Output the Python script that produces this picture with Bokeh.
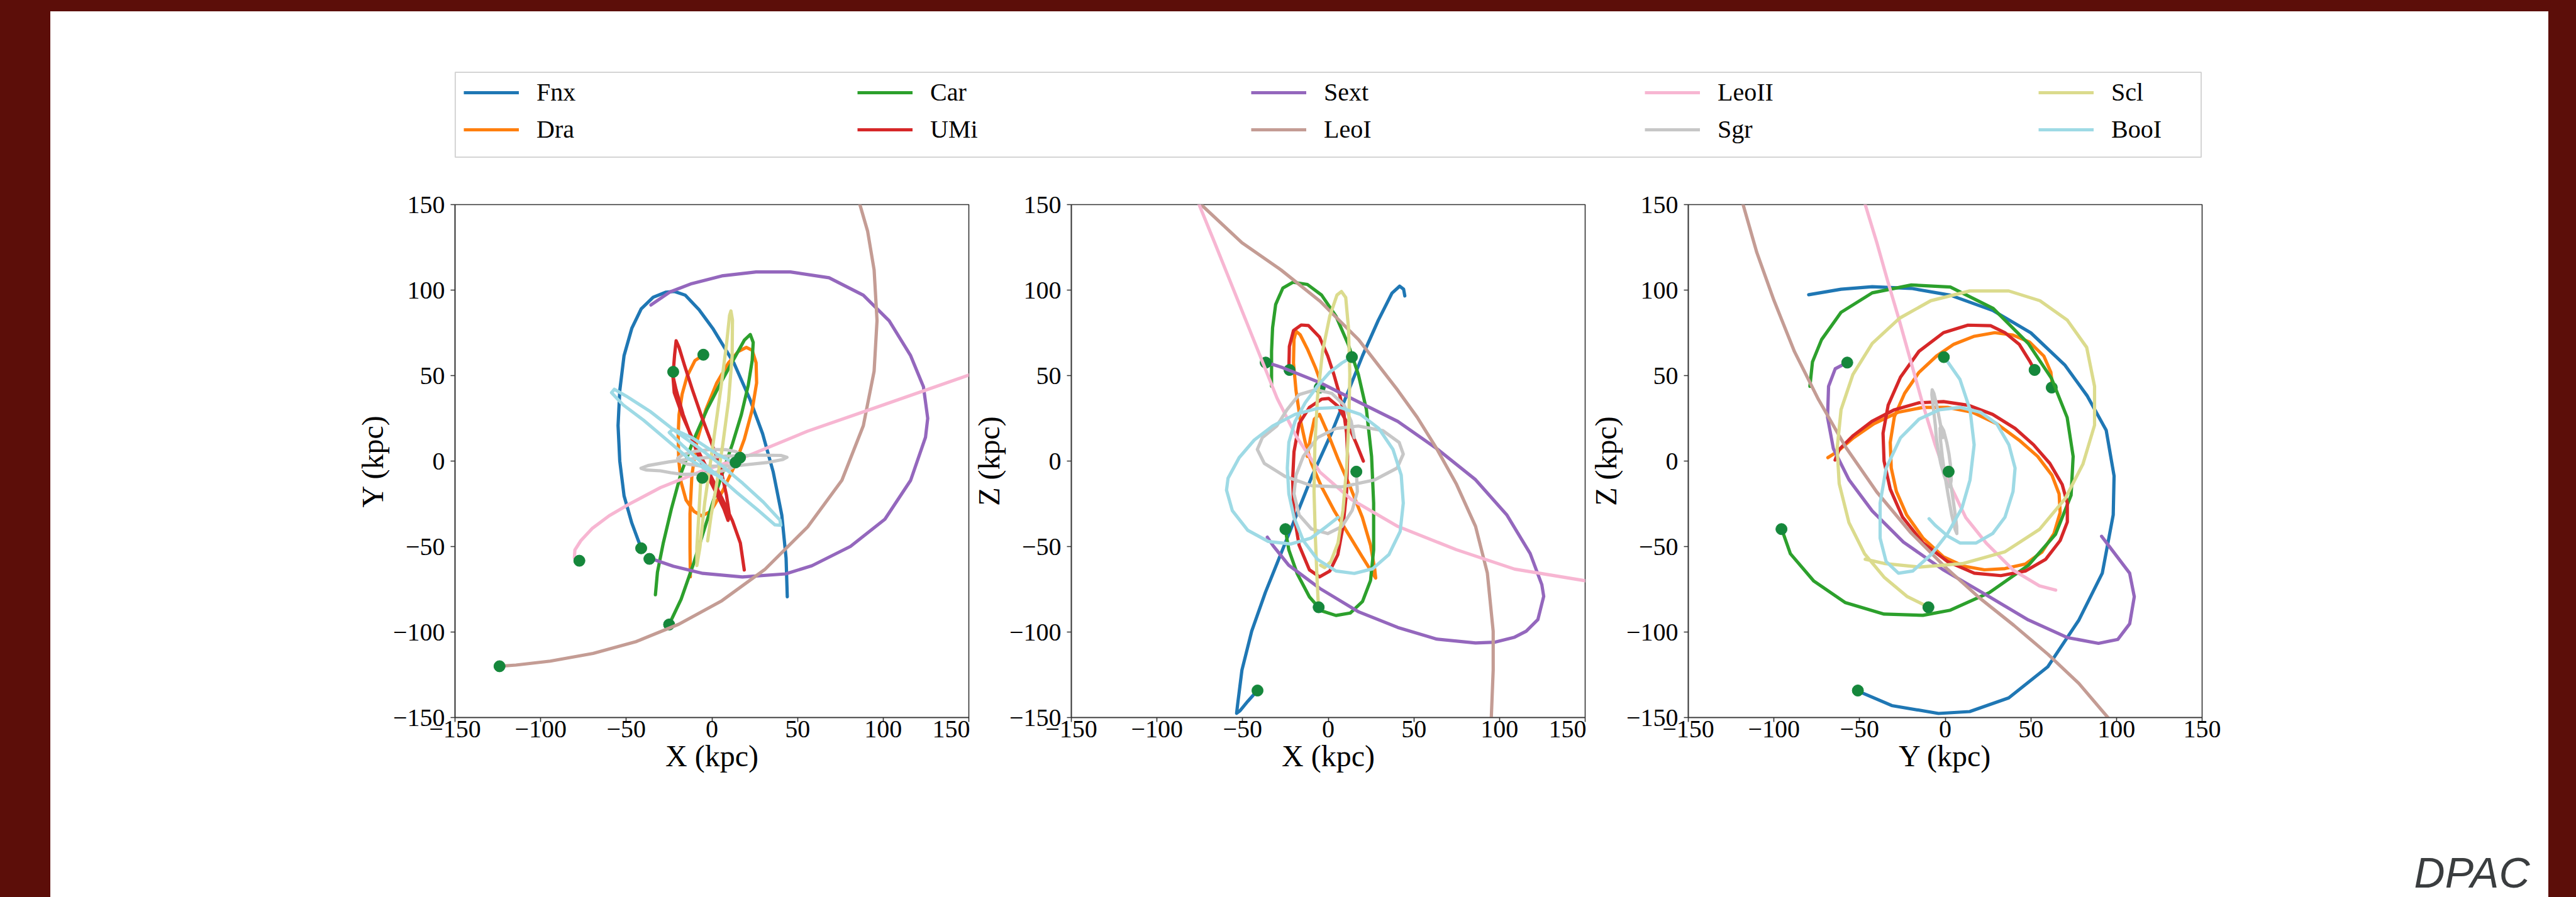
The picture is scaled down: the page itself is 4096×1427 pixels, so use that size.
import re
from bokeh.plotting import figure
from bokeh.models import Range1d, FixedTicker, Legend, LegendItem, Spacer, Label
from bokeh.layouts import row, column
from bokeh.embed import file_html
from bokeh.resources import INLINE

# ---------------- data ----------------
NAMES = ["Fnx", "Dra", "Car", "UMi", "Sext", "LeoI", "LeoII", "Sgr", "Scl", "BooI"]
COLORS = ["#1f77b4", "#ff7f0e", "#2ca02c", "#d62728", "#9467bd",
          "#c49c94", "#f7b6d2", "#c7c7c7", "#dbdb8d", "#9edae5"]
DOT_COLOR = "#15873b"
TICKS = [-150, -100, -50, 0, 50, 100, 150]
TICK_LABELS = ["\u2212150", "\u2212100", "\u221250", "0", "50", "100", "150"]
X_LABELS = ["X (kpc)", "X (kpc)", "Y (kpc)"]
Y_LABELS = ["Y (kpc)", "Z (kpc)", "Z (kpc)"]

# present positions (green dots), per galaxy in NAMES order
DOT_X = [-41.3, -5.0, -25.0, -22.6, -36.5, -124.0, -77.4, 16.4, -5.6, 13.8]
DOT_Y = [-51.0, 62.2, -95.6, 52.2, -57.2, -120.0, -58.3, 2.0, -9.8, -0.8]
DOT_Z = [-134.2, 43.0, -39.8, 53.3, 57.6, 175.0, 165.0, -6.2, -85.5, 60.8]

# ---- panel 1: X-Y ----
FNX_XY = [(-41.3, -51), (-46.8, -36.2), (-51.3, -20.3), (-53.8, 0), (-54.8, 20.7), (-53.8, 41.2),
          (-51.3, 61.7), (-46.8, 77.6), (-41.3, 89), (-34.3, 95.8), (-26.8, 98.8), (-21.8, 99.2),
          (-15.5, 97), (-7.5, 88.5), (0.5, 77.6), (13, 57), (22, 36.6), (29.6, 16), (35.8, -6.4),
          (40.8, -31.6), (43.3, -56.7), (44, -79.4)]
DRA_XY = [(-5.5, 61.7), (-9.9, 58.8), (-14.5, 49.6), (-17.4, 39.1), (-19.2, 27.2), (-19.7, 15.4),
          (-19.4, 0.9), (-18, -12.3), (-15.1, -22.8), (-10.5, -29.4), (-5.9, -32.1), (-0.7, -29.4),
          (6.2, -17.6), (13.1, -3.1), (18.9, 12.7), (23.5, 29.9), (26.1, 45.7), (25.8, 57.5),
          (23.5, 64.8), (20.1, 66.5), (15.4, 64.1), (9.7, 57.5), (2.8, 45.7), (-3.6, 29.9),
          (-8.8, 11.4), (-11.7, -8.4), (-12.8, -30.8), (-12.8, -50.5), (-12.6, -67.6)]
CAR_XY = [(-25.2, -96), (-18, -80.8), (-11.1, -61.1), (-5.3, -42.6), (0.5, -24.2), (6.2, -7),
          (12, 10.1), (17.2, 27.2), (21.2, 44.3), (23.5, 58.8), (24.1, 69.4), (22.4, 74),
          (18.9, 70.7), (13.1, 60.2), (5.1, 45.7), (-3, 29.9), (-11.1, 11.4), (-18, -7),
          (-23.7, -28.1), (-28.4, -47.9), (-31.8, -65), (-33, -78.2)]
UMI_XY = [(-22.6, 52), (-21.8, 62), (-20.9, 70.4), (-19.2, 66.5), (-16, 56), (-11.5, 42),
          (-6, 26), (0, 10), (5, -4), (8.5, -20), (10.3, -32), (9.4, -34.7), (7, -28),
          (2, -17.6), (-4.7, -4.4), (-11.1, 11.4), (-16.8, 27.2), (-20.9, 41.7), (-22.8, 50),
          (-22, 40), (-17, 26), (-10, 10), (-2, -6), (6, -22), (12, -35), (16.6, -47.9),
          (18.9, -63.7)]
SEXT_XY = [(-36.5, -56.7), (-22.6, -61.5), (-5.3, -65.7), (17.8, -67.8), (43, -66), (58.4, -61.2),
           (80.9, -49.9), (101, -34), (116, -11.3), (124.7, 13.9), (126, 25), (123.5, 43.5),
           (116, 61.7), (103.5, 82), (88.4, 97), (68.4, 107.2), (45.8, 110.6), (25.8, 110.6),
           (5.8, 108.3), (-11.8, 103.8), (-24.3, 99), (-35.6, 91.3)]
LEOI_XY = [(-124, -120), (-114.4, -119.3), (-94.4, -117), (-69.4, -112.5), (-44.3, -105.6),
           (-19.3, -95.4), (5.8, -81.7), (30.8, -63.5), (55.9, -38.5), (75.9, -11.2), (88.4, 20.7),
           (94.7, 52.6), (96.4, 82.2), (94.7, 111.8), (90.9, 134.5), (86.4, 150), (84, 160)]
LEOII_XY = [(-77.4, -58.3), (-80.3, -56.5), (-80, -52), (-76.5, -46.5), (-70, -39.5), (-60, -32),
            (-48, -25), (-30, -15.5), (-5, -5.5), (20.8, 3), (55.9, 17.5), (93.4, 30.5),
            (150, 50.3), (160, 54)]
SCL_XY = [(-6.5, -10.3), (-7.6, -30.8), (-8.8, -50.5), (-8.8, -61.1), (-7.0, -50.5), (-4.2, -24.2),
          (0.5, 8.8), (5.1, 41.7), (8.5, 68.1), (10.3, 85.2), (11.1, 87.8), (12, 82.6), (11.8, 61.5),
          (9.7, 35.1), (6.2, 8.8), (2.5, -15), (-0.5, -32), (-2.5, -46.7)]
BOOI_XY = [(13.1, -1.1), (2.8, 4.2), (-11.1, 13.4), (-22.6, 18.7), (-24.9, 16.7), (-16.8, 8.8),
           (-6.5, -0.4), (3.3, -8.4), (14.3, -18.2), (27, -28.8), (36.8, -37.3), (40.2, -37.6),
           (39.7, -34.5), (30, -24), (18, -13), (5, -2), (-8, 8), (-22, 18), (-36, 29), (-50, 38),
           (-57, 42), (-58.6, 40), (-52, 33), (-40, 24), (-27, 13), (-13, 1), (0, -7), (5.7, -9.4)]

# ---- Sgr orbit (3-D samples) ----
SGR_X = [16.4, 17, 14, 8, -0.3, -9.8, -17, -20, -18.8, -14.6, -6.3, 4.5, 17.6, 31.9, 41.4, 43.8,
         40.2, 27.1, 8, -9.8, -25.3, -37.3, -41.4, -38.5, -30.1, -24.1, -17, -7.5, 2.1, 9.2, 13.4, 15.2]
SGR_Y = [2.0, 3.9, 5.5, 6.7, 6.8, 5.7, 3.8, 1.6, -0.2, -1.7, -2.9, -3.0, -2.4, -0.9, 0.9, 2.2,
         3.3, 3.5, 2.9, 1.5, -0.5, -2.6, -4.2, -5.2, -5.7, -6.8, -7.8, -7.6, -6.6, -5.0, -3.1, -1.4]
SGR_Z = [-6.2, -17.8, -28.8, -38.3, -42.4, -39.7, -31.5, -19.2, -8.2, 2.7, 13.7, 19.1, 20.5, 17.8,
         10.9, 4.1, -4.1, -11, -15.1, -14.4, -8.9, -1.4, 6.8, 13.7, 20.5, 30, 38.9, 41.7, 39.6,
         32.8, 23.2, 13.7]

# ---- panel 2: X-Z ----
FNX_XZ = [(-41.3, -134.1), (-47, -140.5), (-51.5, -146), (-53.5, -147.5), (-53, -143),
          (-50.4, -122.3), (-44.7, -99.5), (-36.7, -76.8), (-27.6, -54.1), (-18.5, -31.4),
          (-9.4, -8.6), (1.9, 16.4), (11, 39.1), (20.1, 61.8), (29.2, 82.3), (37.2, 98.2),
          (41.7, 102.3), (44, 100.5), (44.7, 96.6)]
DRA_XZ = [(-3.3, 43.1), (-7.5, 54.7), (-12.2, 65.6), (-16.4, 73.9), (-18.8, 75.9), (-20, 71.1),
          (-20.3, 57.4), (-18.8, 41), (-16.4, 24.6), (-13.4, 10.9), (-9.8, -1.4), (-3.9, -15.1),
          (3.3, -28.7), (11.6, -42.4), (19.9, -56.1), (25.9, -65.7), (27.7, -68.4), (27.1, -63),
          (24.7, -49.3), (19.9, -32.9), (12.8, -15.1), (5.7, 1.3), (-0.3, 16.4), (-5.1, 27.3),
          (-8.1, 24.6), (-10.4, 13.7), (-12.2, 2.7)]
CAR_XZ = [(-25.1, -39.7), (-23, -52), (-18.2, -65.7), (-11, -79.4), (-3.9, -87.6), (4.5, -90.3),
          (12.8, -88.9), (20, -82.1), (24.7, -69.8), (26.5, -52), (26.5, -24.6), (25.3, 2.7),
          (22.3, 30), (17.6, 50.6), (11.6, 68.4), (4.5, 84.8), (-3.9, 97.1), (-12.2, 103.3),
          (-20.6, 104.6), (-26.5, 101.2), (-30.7, 91.6), (-32.5, 78), (-33.1, 64.3), (-33.1, 43.8)]
UMI_XZ = [(-23, 53.3), (-22.7, 67), (-20.3, 76.3), (-15.8, 79.6), (-11.6, 79.3), (-5.1, 72.5),
          (-0.3, 61.5), (3.3, 50.6), (6.8, 38.3), (9.2, 27.3), (10.7, 16.4), (11.3, 2.7),
          (10.7, -17.8), (8.6, -38.3), (5.6, -54.7), (0.9, -64.3), (-5.1, -67.7), (-11, -63.6),
          (-17, -49.3), (-20, -31.5), (-20.8, -11), (-20, 5.4), (-17, 21.9), (-11, 31.4),
          (-3.9, 36.2), (0.3, 36.6), (5.7, 32.1), (11.6, 21.2), (16.4, 10.2), (20.5, 0)]
SEXT_XZ = [(-36.3, 57.7), (-27.6, 55), (-4.9, 45.9), (17.8, 34.5), (40.6, 23.2), (63.3, 7.3),
           (86, -10.9), (104.2, -31.4), (117.9, -54.1), (124.7, -72.3), (125.8, -79.1),
           (122.4, -92.7), (115.6, -99.5), (108.8, -103), (97.4, -105.9), (86, -106.4),
           (63.3, -104.1), (40.6, -97.3), (17.8, -88.2), (-4.9, -74.5), (-23.1, -60.9),
           (-32.2, -49.5), (-35.6, -44.5)]
LEOI_XZ = [(-80, 160), (-74.2, 150), (-50.4, 127.7), (-27.6, 111.8), (-4.9, 93.6), (17.8, 70.9),
           (40.6, 41.4), (52, 25.5), (63.3, 7.3), (74.7, -13.2), (86, -38.2), (92.9, -65.5),
           (96.3, -99.5), (96.3, -122.3), (95.2, -150), (95, -160)]
LEOII_XZ = [(-77, 156), (-75.4, 150), (-66.3, 127.7), (-57.2, 105), (-48.1, 82.3), (-39, 59.5),
            (-29.9, 36.8), (-18.5, 14.1), (-4.9, -6.4), (13.3, -22.3), (40.6, -38.2),
            (74.7, -51.8), (108.8, -63.2), (150, -70), (160, -71)]
SCL_XZ = [(-5.7, -85.5), (-6.5, -69.8), (-7.5, -45.2), (-8.3, -17.8), (-7.8, 9.6), (-6.3, 36.9),
          (-3.3, 64.3), (0.9, 84.8), (5.1, 97.1), (7.7, 99.2), (10.2, 95.7), (11.8, 78),
          (12.6, 50.6), (12, 23.2), (10.7, -4.1), (8.6, -28.7), (5.7, -47.9), (1.5, -58.8),
          (-2.1, -62.3), (-4.5, -60.9)]
BOOI_XZ = [(14.0, 60.9), (8.0, 57.4), (0.9, 52), (-6.3, 43.8), (-13.4, 34.2), (-19.4, 23.2),
           (-23, 10.9), (-23.9, -4.1), (-23, -19.2), (-20, -32.9), (-14.6, -46.5), (-6.3, -57.5),
           (4.5, -64.3), (15.2, -65.7), (25.9, -63), (35.4, -54.7), (42, -41.1), (43.8, -24.6),
           (42.6, -8.2), (37.8, 6.8), (29.5, 19.1), (18.8, 27.3), (6.8, 31.4), (-6.3, 30.8),
           (-19.4, 27.3), (-32.5, 20.5), (-43.2, 12.3), (-52, 2), (-58.5, -10), (-59.4, -17),
           (-56, -29), (-47, -40.5), (-35, -47), (-22, -48.5), (-10, -45), (-2, -39), (5.7, -33)]

# ---- panel 3: Y-Z ----
FNX_YZ = [(-51.2, -134.4), (-31.2, -143), (-3.9, -147.6), (14.3, -146.5), (37.1, -138.5),
          (59.9, -120.3), (78.1, -92.9), (91.7, -65.6), (98.1, -31.4), (98.6, -8.7), (94, 18),
          (83, 38), (70, 56), (50, 75), (28, 88), (3, 97), (-19.8, 101), (-42.6, 102),
          (-60.8, 100.5), (-79.7, 97.3)]
DRA_YZ = [(62.7, 43), (61.7, 51.9), (57.6, 61.4), (49.2, 69.6), (39.6, 73.7), (28.9, 75.1), (17, 73),
          (5, 68.3), (-5.1, 61.4), (-15.3, 51.9), (-23.7, 39.6), (-29.7, 25.9), (-32.1, 10.9),
          (-31.5, -4.1), (-28.5, -17.8), (-22.5, -31.5), (-12.9, -45.1), (-1, -56), (11, -61.5),
          (22.9, -63.6), (34.9, -62.9), (46.8, -60.2), (56.4, -53.3), (63.5, -42.4), (67.1, -30.1),
          (66.5, -19.2), (62.3, -8.2), (54, 2.7), (43.2, 12.2), (30.1, 21.8), (15.7, 28.6),
          (1.4, 31.4), (-12.9, 31.4), (-27.3, 28.6), (-41.6, 21.8), (-53.6, 13.6), (-63.1, 5.4),
          (-68.5, 2)]
CAR_YZ = [(-95.4, -39.9), (-90.4, -54.2), (-76.7, -70.2), (-58.5, -82.7), (-35.7, -89.5),
          (-13, -90.2), (3, -87.2), (25.7, -77), (48.5, -61), (64.4, -42.8), (73.5, -20),
          (74.7, 2.7), (71.2, 25.5), (62.1, 48.3), (48.5, 68.8), (28, 89.3), (3, 101.8),
          (-19.8, 103), (-42.6, 98.4), (-60.8, 87), (-72.2, 71), (-77.5, 58), (-79, 43.7)]
UMI_YZ = [(52.2, 53.2), (49.2, 58.7), (43.2, 68.3), (34.9, 75.1), (26.5, 79.2), (13.3, 79.5),
          (-1, 75.1), (-15.3, 64.2), (-26.1, 49.1), (-33.3, 32.7), (-36.3, 16.3), (-35.7, 0),
          (-32.1, -16.4), (-24.9, -32.8), (-12.9, -47.9), (1.4, -58.8), (17, -65.6), (32.5, -67),
          (46.8, -64.3), (58.7, -57.4), (67.1, -46.5), (71.3, -35.6), (71.3, -24.6), (68.3, -13.7),
          (61.1, -1.4), (51.6, 9.5), (40.8, 19.1), (27.7, 27.3), (13.3, 32.7), (-1, 34.8),
          (-15.3, 34.1), (-29.7, 30), (-42.8, 23.2), (-53.6, 15), (-61.9, 6.8), (-64.3, 0.6)]
SEXT_YZ = [(-57.4, 57.6), (-64.2, 54), (-68.1, 43.7), (-68.7, 25.5), (-65.3, 7.3), (-56.2, -10.9),
           (-42.6, -29.2), (-24.4, -47.4), (-1.6, -63.3), (25.7, -79.3), (48.5, -92.9),
           (71.2, -103.2), (89.5, -106.6), (100.8, -104.3), (107.7, -95.2), (110.4, -79.3),
           (107.7, -65.6), (100.8, -56.5), (91.3, -44)]
LEOI_YZ = [(-120, 160), (-118, 150), (-110, 122), (-100, 94), (-88, 64), (-74, 36), (-58, 8),
           (-40, -18), (-20, -42), (0, -62), (20, -80), (40, -96), (60, -113), (78, -130),
           (95, -150), (100, -156)]
LEOII_YZ = [(-48, 156), (-46.7, 150), (-40, 128), (-33.5, 105), (-27, 83), (-20, 58), (-13, 33),
            (-6, 10), (1, -10), (12, -33), (24, -48), (40, -64), (55, -73), (64.5, -75.5)]
SCL_YZ = [(-9.6, -85.4), (-22.1, -79.3), (-35.7, -67.9), (-47.1, -54.2), (-56.2, -36),
          (-61.9, -13.2), (-63.1, 7.3), (-60.8, 30.1), (-53.9, 50.6), (-42.6, 68.8), (-26.6, 83.6),
          (-8.4, 93.8), (14.3, 99.5), (37.1, 99.5), (55.3, 93.8), (71.2, 82.5), (82.6, 66.5),
          (87.2, 43.7), (87.2, 21), (80.4, -1.8), (70, -22), (55, -40), (35, -53), (10, -60),
          (-15, -62), (-35, -60), (-46.7, -57.4)]
BOOI_YZ = [(-0.4, 60.7), (8.6, 47.8), (14.5, 30), (16.9, 9.5), (14.5, -11), (9.8, -27.4),
           (1.4, -42.4), (-8.2, -54.7), (-18.9, -64.3), (-27.3, -65.6), (-34.5, -58.8),
           (-38, -45.1), (-38, -24.6), (-34.5, -4.2), (-26.1, 13.6), (-15.3, 24.5), (-3.4, 30),
           (8.6, 31.4), (20.5, 28.6), (30.1, 21.8), (37.2, 9.5), (40.8, -4.1), (39.6, -17.8),
           (34.9, -32.8), (27.7, -42.4), (18.1, -47.9), (8.6, -47.9), (1.4, -43.8), (-5.8, -37.6),
           (-9.4, -33.7)]

PANEL_XY = [FNX_XY, DRA_XY, CAR_XY, UMI_XY, SEXT_XY, LEOI_XY, LEOII_XY,
            list(zip(SGR_X, SGR_Y)), SCL_XY, BOOI_XY]
PANEL_XZ = [FNX_XZ, DRA_XZ, CAR_XZ, UMI_XZ, SEXT_XZ, LEOI_XZ, LEOII_XZ,
            list(zip(SGR_X, SGR_Z)), SCL_XZ, BOOI_XZ]
PANEL_YZ = [FNX_YZ, DRA_YZ, CAR_YZ, UMI_YZ, SEXT_YZ, LEOI_YZ, LEOII_YZ,
            list(zip(SGR_Y, SGR_Z)), SCL_YZ, BOOI_YZ]

# ---------------- layout constants (output px) ----------------
RED = "#5c0e09"
SERIF = "Liberation Serif"
FRAME_W, FRAME_H = 817, 816
LINE_W = 5.2
DOT_SIZE = 18
WHITE = {"background-color": "white"}


def make_panel(k, orbits, du, dv, left, right):
    p = figure(frame_width=FRAME_W, frame_height=FRAME_H,
               min_border_left=left, min_border_right=right,
               min_border_top=45, min_border_bottom=159,
               x_range=Range1d(-150, 150), y_range=Range1d(-150, 150),
               output_backend="svg", toolbar_location=None,
               background_fill_color="white", border_fill_color="white",
               outline_line_color="#333333", outline_line_width=1.6)
    p.grid.visible = False
    for ax in (p.xaxis[0], p.yaxis[0]):
        ax.ticker = FixedTicker(ticks=TICKS)
        ax.major_label_overrides = dict(zip(TICKS, TICK_LABELS))
        ax.minor_tick_line_color = None
        ax.major_tick_in = 0
        ax.major_tick_out = 7
        ax.major_tick_line_color = "#333333"
        ax.major_tick_line_width = 1.6
        ax.axis_line_color = "#333333"
        ax.axis_line_width = 1.6
        ax.major_label_text_font = SERIF
        ax.major_label_text_font_size = "40px"
        ax.major_label_text_color = "black"
        ax.axis_label_text_font = SERIF
        ax.axis_label_text_font_size = "48px"
        ax.axis_label_text_font_style = "normal"
        ax.axis_label_text_color = "black"
    p.xaxis.major_label_standoff = -2
    p.yaxis.major_label_standoff = 9
    p.xaxis.axis_label_standoff = 0
    p.yaxis.axis_label_standoff = 3
    p.xaxis.axis_label = X_LABELS[k]
    p.yaxis.axis_label = Y_LABELS[k]
    for i, name in enumerate(NAMES):
        pts = orbits[i]
        p.line([a for a, b in pts], [b for a, b in pts], line_color=COLORS[i],
               line_width=LINE_W, line_join="round", line_cap="round")
        p.scatter([du[i]], [dv[i]], size=DOT_SIZE, fill_color=DOT_COLOR, line_color=DOT_COLOR)
    return p


p1 = make_panel(0, PANEL_XY, DOT_X, DOT_Y, 643, 2)
p2 = make_panel(1, PANEL_XZ, DOT_X, DOT_Z, 160, 2)
p3 = make_panel(2, PANEL_YZ, DOT_Y, DOT_Z, 162, 551)

# ---------------- header with legend ----------------
HW, HH = 3971, 262
header = figure(width=HW, height=HH, x_range=Range1d(0, HW), y_range=Range1d(0, HH),
                min_border=0, output_backend="svg", toolbar_location=None,
                x_axis_location=None, y_axis_location=None, outline_line_color=None,
                background_fill_color="white", border_fill_color="white")
header.grid.visible = False
header.quad(left=643.4, right=3419.5, bottom=30.5, top=165.4, fill_color="white",
            line_color="#d4d4d4", line_width=2)
dummy = [header.line([-100, -90], [-100, -100], line_color=c, line_width=LINE_W) for c in COLORS]
COL_X = [657, 1283, 1909, 2535, 3161]
for c in range(5):
    items = [LegendItem(label=NAMES[2 * c + r], renderers=[dummy[2 * c + r]]) for r in range(2)]
    leg = Legend(items=items, location=(COL_X[c], 51), orientation="vertical",
                 padding=0, margin=0, spacing=12, glyph_width=88, glyph_height=46,
                 label_standoff=28, label_text_font=SERIF, label_text_font_size="40px",
                 label_text_color="black", border_line_alpha=0, background_fill_alpha=0)
    header.add_layout(leg)

# ---------------- footer with credit ----------------
FH = 127
footer = figure(width=HW, height=FH, x_range=Range1d(0, HW), y_range=Range1d(0, FH),
                min_border=0, output_backend="svg", toolbar_location=None,
                x_axis_location=None, y_axis_location=None, outline_line_color=None,
                background_fill_color="white", border_fill_color="white")
footer.grid.visible = False
footer.add_layout(Label(x=3942, y=40, text="DPAC", text_font="Liberation Sans",
                        text_font_style="italic", text_font_size="68px", text_color="#3a3d3f",
                        text_align="right", text_baseline="alphabetic"))

content = column(header, row(p1, p2, p3, styles=WHITE), footer, styles=WHITE)
page = column(Spacer(width=4096, height=18),
              row(Spacer(width=80, height=1409), content, Spacer(width=45, height=1409)),
              styles={"background-color": RED})

html = file_html(page, INLINE, title="orbits")
html = re.sub(r"<body[^>]*>", '<body style="margin:0;background-color:%s;">' % RED, html, count=1)
open("out.html", "w").write(html)
